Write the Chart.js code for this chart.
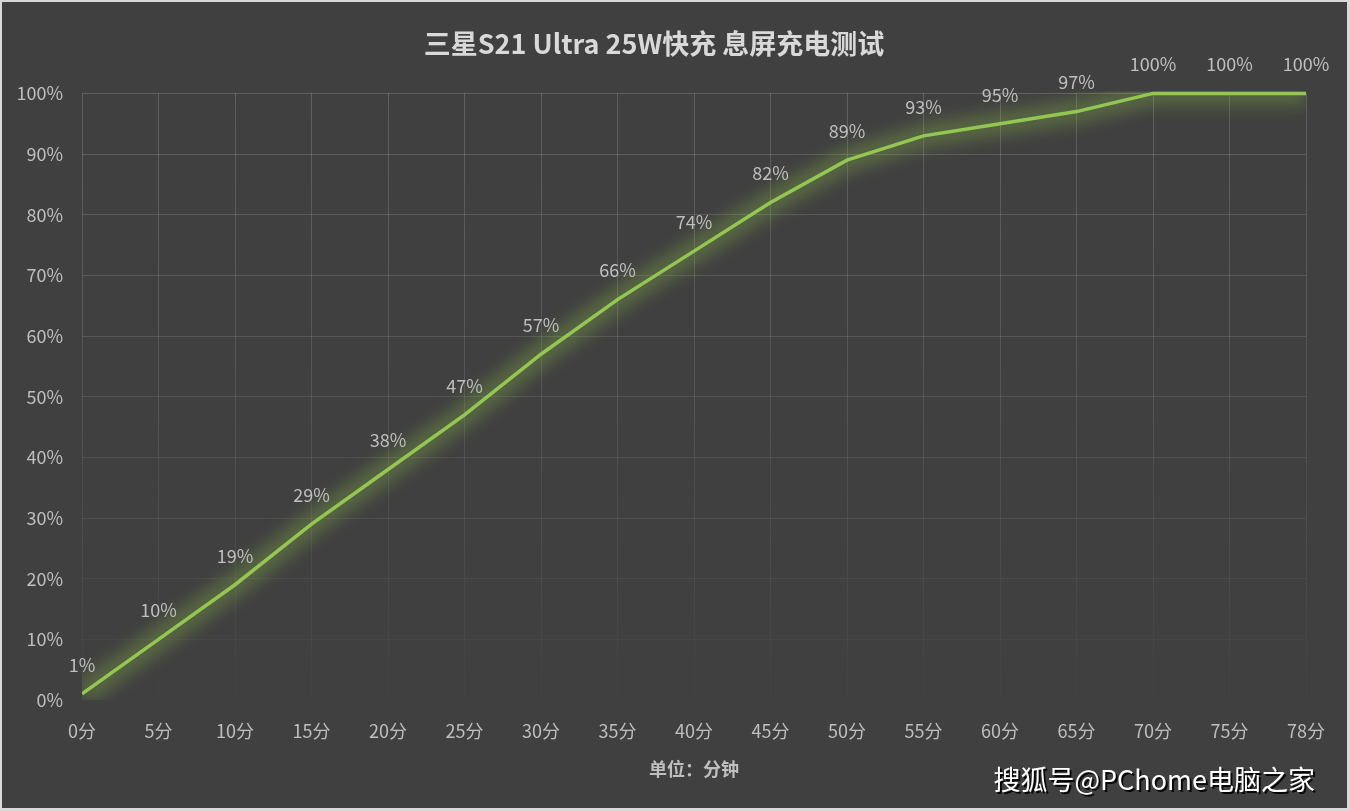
<!DOCTYPE html>
<html>
<head>
<meta charset="utf-8">
<script src="https://cdn.jsdelivr.net/npm/chart.js@4/dist/chart.umd.min.js"></script>
<style>
  html, body { margin: 0; padding: 0; background: #d9d9d9; }
  #wrap { position: absolute; left: 2px; top: 2px; width: 1345px; height: 806px; background: #404040; }
</style>
</head>
<body>
<div id="wrap"><canvas id="myGraph" width="1345" height="806"></canvas></div>
<script>
const minutes = ["0分", "5分", "10分", "15分", "20分", "25分", "30分", "35分", "40分", "45分", "50分", "55分", "60分", "65分", "70分", "75分", "78分"];
const battery = [1, 10, 19, 29, 38, 47, 57, 66, 74, 82, 89, 93, 95, 97, 100, 100, 100];
const yTicks = [0, 10, 20, 30, 40, 50, 60, 70, 80, 90, 100];

const FONT = "'Noto Sans CJK SC', 'Noto Sans', sans-serif";

// soft green glow round the line: draw a wide blurred stroke first
const glowPlugin = {
  id: "glow",
  beforeDatasetDraw(chart) {
    const ctx = chart.ctx;
    const pts = chart.getDatasetMeta(0).data;
    const a = chart.chartArea;
    ctx.save();
    ctx.beginPath();
    ctx.rect(a.left, a.top - 2, a.right - a.left, a.bottom - a.top + 2);
    ctx.clip();
    ctx.filter = "blur(8px)";
    ctx.strokeStyle = "rgba(140, 190, 70, 0.32)";
    ctx.lineWidth = 24;
    ctx.lineJoin = "round";
    ctx.beginPath();
    pts.forEach((p, i) => (i ? ctx.lineTo(p.x, p.y) : ctx.moveTo(p.x, p.y)));
    ctx.stroke();
    ctx.restore();
  },
};

// value labels above the points
const valueLabels = {
  id: "valueLabels",
  afterDatasetsDraw(chart) {
    const ctx = chart.ctx;
    const meta = chart.getDatasetMeta(0);
    ctx.save();
    ctx.font = "18px " + FONT;
    ctx.fillStyle = "#bfbfbf";
    ctx.textAlign = "center";
    ctx.textBaseline = "middle";
    meta.data.forEach((pt, i) => {
      ctx.fillText(battery[i] + "%", pt.x, pt.y - 29);
    });
    ctx.restore();
  },
};

const watermark = {
  id: "watermark",
  afterDraw(chart) {
    const ctx = chart.ctx;
    ctx.save();
    ctx.font = "27px " + FONT;
    ctx.textAlign = "right";
    ctx.textBaseline = "middle";
    ctx.shadowColor = "rgba(0,0,0,0.9)";
    ctx.shadowOffsetX = 2;
    ctx.shadowOffsetY = 2;
    ctx.fillStyle = "#ffffff";
    ctx.fillText("搜狐号@PChome电脑之家", 1313, 778);
    ctx.restore();
  },
};

function xGridColor(c) {
  const area = c.chart.chartArea;
  if (!area) return "rgba(255,255,255,0.15)";
  const g = c.chart.ctx.createLinearGradient(0, area.top, 0, area.bottom);
  g.addColorStop(0, "rgba(255,255,255,0.17)");
  g.addColorStop(0.5, "rgba(255,255,255,0.11)");
  g.addColorStop(1, "rgba(255,255,255,0.01)");
  return g;
}

function yGridColor(c) {
  const v = c.tick ? c.tick.value : 100;
  const a = 0.01 + 0.16 * Math.pow(v / 100, 0.8);
  return "rgba(255,255,255," + a.toFixed(3) + ")";
}

new Chart(document.getElementById("myGraph"), {
  type: "line",
  data: {
    labels: minutes,
    datasets: [
      {
        label: "息屏充电",
        data: battery,
        borderColor: "#94c752",
        borderWidth: 3.5,
        pointRadius: 0,
        tension: 0,
        fill: false,
        clip: { left: 0, top: 3, right: 0, bottom: 0 },
      },
    ],
  },
  options: {
    responsive: false,
    animation: false,
    layout: { padding: { left: 0, right: 41, top: 0, bottom: 0 } },
    plugins: {
      legend: { display: false },
      tooltip: { enabled: false },
      title: {
        display: true,
        text: "三星S21 Ultra 25W快充 息屏充电测试",
        color: "#d9d9d9",
        font: { family: FONT, size: 27, weight: "bold" },
        padding: { top: 26, bottom: 33 },
      },
    },
    scales: {
      x: {
        offset: false,
        border: { display: false },
        grid: { color: xGridColor, lineWidth: 1, drawTicks: false },
        ticks: {
          color: "#bfbfbf",
          font: { family: FONT, size: 18 },
          padding: 20,
          maxRotation: 0,
          autoSkip: false,
        },
        title: {
          display: true,
          text: "单位：分钟",
          color: "#bfbfbf",
          font: { family: FONT, size: 18, weight: "bold" },
          padding: { top: 0, bottom: 28 },
        },
        afterFit(scale) {
          scale.height = 108;
        },
      },
      y: {
        min: 0,
        max: 100,
        border: { display: false },
        grid: { color: yGridColor, lineWidth: 1, drawTicks: false },
        afterBuildTicks(scale) {
          scale.ticks = yTicks.map((v) => ({ value: v }));
        },
        ticks: {
          color: "#bfbfbf",
          font: { family: FONT, size: 18 },
          padding: 19,
          callback: (v) => v + "%",
        },
        afterFit(scale) {
          scale.width = 80;
        },
      },
    },
  },
  plugins: [glowPlugin, valueLabels, watermark],
});
</script>
</body>
</html>
